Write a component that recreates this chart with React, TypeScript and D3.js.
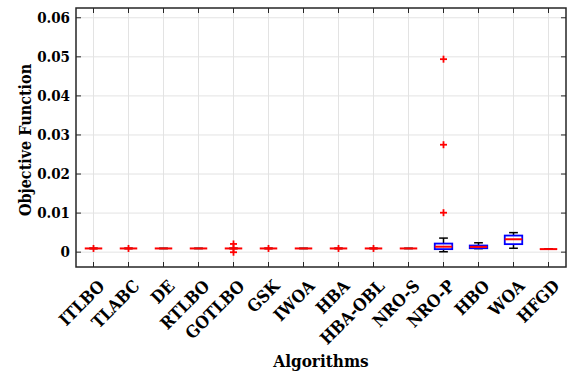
import React from "react";
import * as d3 from "d3";

const categories = ["ITLBO", "TLABC", "DE", "RTLBO", "GOTLBO", "GSK", "IWOA", "HBA", "HBA-OBL", "NRO-S", "NRO-P", "HBO", "WOA", "HFGD"];
const whiskerLow = [0.00095, 0.00095, 0.00095, 0.00095, 0.00095, 0.00095, 0.00095, 0.00095, 0.00095, 0.00095, 0.0001, 0.0009, 0.001, 0.00078];
const q1 = [0.00095, 0.00095, 0.00095, 0.00095, 0.00095, 0.00095, 0.00095, 0.00095, 0.00095, 0.00095, 0.00077, 0.001, 0.00205, 0.00078];
const medians = [0.00095, 0.00095, 0.00095, 0.00095, 0.00095, 0.00095, 0.00095, 0.00095, 0.00095, 0.00095, 0.0014, 0.00135, 0.0033, 0.00078];
const q3 = [0.00095, 0.00095, 0.00095, 0.00095, 0.00095, 0.00095, 0.00095, 0.00095, 0.00095, 0.00095, 0.0022, 0.0017, 0.00425, 0.00078];
const whiskerHigh = [0.00095, 0.00095, 0.00095, 0.00095, 0.00095, 0.00095, 0.00095, 0.00095, 0.00095, 0.00095, 0.0036, 0.0024, 0.005, 0.00078];
const outliers: number[][] = [
  [0.00095], [0.00095], [], [], [0.0021, 0.00095, -0.00002], [0.00095], [], [0.00095], [0.00095], [],
  [0.0101, 0.0275, 0.0494], [], [], [],
];
const yTicks = [0, 0.01, 0.02, 0.03, 0.04, 0.05, 0.06];
const yTickLabels = ["0", "0.01", "0.02", "0.03", "0.04", "0.05", "0.06"];

const W = 567, H = 375;
const L = 76, R = 566, T = 8, B = 267;
const FONT = "'DejaVu Serif Condensed', 'DejaVu Serif', serif";

export default function App() {
  const x = d3.scaleLinear().domain([0.5, categories.length + 0.5]).range([L, R]);
  const y = d3.scaleLinear().domain([-0.0038, 0.0625]).range([B, T]);
  const bw = (x(1) - x(0)) * 0.5;
  const tick = 5;
  const ts = { fontFamily: FONT, fontWeight: 700, fontStretch: "condensed" } as React.CSSProperties;
  return (
    <svg width={W} height={H} style={{ position: "absolute", left: 0, top: 0, background: "#fff" }}>
      {categories.map((c, i) => (
        <line key={"gx" + i} x1={x(i + 1)} x2={x(i + 1)} y1={T} y2={B} stroke="#e3e3e3" strokeWidth={1} />
      ))}
      {yTicks.map((t, i) => (
        <line key={"gy" + i} x1={L} x2={R} y1={y(t)} y2={y(t)} stroke="#e3e3e3" strokeWidth={1} />
      ))}
      {categories.map((c, i) => {
        const cx = x(i + 1);
        return (
          <g key={"b" + i}>
            <line x1={cx} x2={cx} y1={y(q3[i])} y2={y(whiskerHigh[i])} stroke="#000" strokeWidth={1.5} />
            <line x1={cx} x2={cx} y1={y(q1[i])} y2={y(whiskerLow[i])} stroke="#000" strokeWidth={1.5} />
            <line x1={cx - bw / 4} x2={cx + bw / 4} y1={y(whiskerHigh[i])} y2={y(whiskerHigh[i])} stroke="#000" strokeWidth={1.5} />
            <line x1={cx - bw / 4} x2={cx + bw / 4} y1={y(whiskerLow[i])} y2={y(whiskerLow[i])} stroke="#000" strokeWidth={1.5} />
            <rect x={cx - bw / 2} y={y(q3[i])} width={bw} height={Math.max(0, y(q1[i]) - y(q3[i]))} fill="none" stroke="#0000ff" strokeWidth={1.8} />
            <line x1={cx - bw / 2} x2={cx + bw / 2} y1={y(medians[i])} y2={y(medians[i])} stroke="#ff0000" strokeWidth={2} />
            {outliers[i].map((o, j) => (
              <g key={j} stroke="#ff0000" strokeWidth={1.8}>
                <line x1={cx - 3.5} x2={cx + 3.5} y1={y(o)} y2={y(o)} />
                <line x1={cx} x2={cx} y1={y(o) - 3.5} y2={y(o) + 3.5} />
              </g>
            ))}
          </g>
        );
      })}
      <rect x={L} y={T} width={R - L} height={B - T} fill="none" stroke="#262626" strokeWidth={1.5} />
      {categories.map((c, i) => (
        <g key={"t" + i} stroke="#262626" strokeWidth={1}>
          <line x1={x(i + 1)} x2={x(i + 1)} y1={B} y2={B - tick} />
          <line x1={x(i + 1)} x2={x(i + 1)} y1={T} y2={T + tick} />
        </g>
      ))}
      {yTicks.map((t, i) => (
        <g key={"ty" + i} stroke="#262626" strokeWidth={1}>
          <line x1={L} x2={L + tick} y1={y(t)} y2={y(t)} />
          <line x1={R} x2={R - tick} y1={y(t)} y2={y(t)} />
        </g>
      ))}
      {yTicks.map((t, i) => (
        <text key={"yl" + i} x={L - 6} y={y(t)} dy="0.35em" textAnchor="end" style={ts} fontSize={15} fill="#000">
          {yTickLabels[i]}
        </text>
      ))}
      {categories.map((c, i) => (
        <text key={"xl" + i} transform={`translate(${x(i + 1) + 8},${B + 16}) rotate(-45)`} textAnchor="end" dy="0.35em" style={ts} fontSize={17} fill="#000">
          {c}
        </text>
      ))}
      <text x={(L + R) / 2} y={367} textAnchor="middle" style={ts} fontSize={17} fill="#000">Algorithms</text>
      <text transform={`translate(25,140) rotate(-90)`} textAnchor="middle" dy="0.35em" style={ts} fontSize={16} fill="#000">Objective Function</text>
    </svg>
  );
}
